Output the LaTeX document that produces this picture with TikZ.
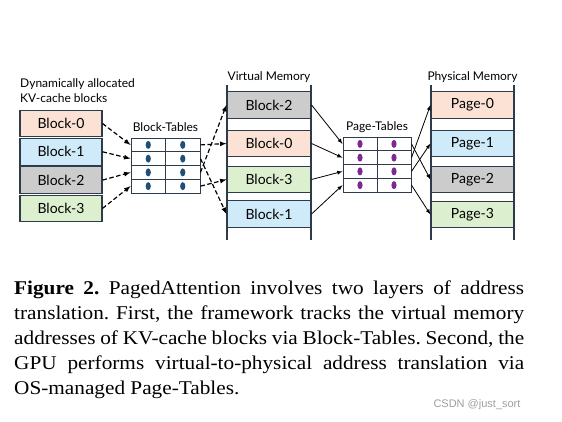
\documentclass[tikz,border=0pt]{standalone}
\usepackage{fontspec}
\setmainfont[FakeStretch=1.09]{Liberation Serif}
\newfontfamily\diagfont{Lato}
\newfontfamily\markfont{Liberation Sans}
\usepackage{xcolor}
\definecolor{ink}{HTML}{2E3B4A}
\definecolor{peach}{HTML}{FBE2D5}
\definecolor{sky}{HTML}{CFEAF8}
\definecolor{stone}{HTML}{CCCCCC}
\definecolor{leaf}{HTML}{DCF0D0}
\definecolor{navy}{HTML}{1F4E79}
\definecolor{plum}{HTML}{7B2B8F}

\begin{document}
\begin{tikzpicture}[x=1pt, y=-1pt, >=latex,
  memcell/.style={draw=ink, line width=1.1pt, minimum width=84pt, minimum height=26.5pt,
    inner sep=0pt, font=\diagfont\fontsize{14}{16}\selectfont},
  tabcell/.style={draw=ink, line width=1pt, fill=white, minimum width=34.5pt,
    minimum height=13.75pt, inner sep=0pt},
  dashlink/.style={->, line width=1.2pt, dash pattern=on 4.5pt off 2.5pt},
  solidlink/.style={->, line width=0.8pt},
  title/.style={font=\diagfont\fontsize{12}{15}\selectfont, inner sep=0pt}]
  \useasboundingbox[fill=white] (0,0) rectangle (562,421);

  % KV-cache blocks
  \node[title, anchor=west, align=left] (kvlabel) at (20,90.5)
    {Dynamically allocated\\KV-cache blocks};
  \foreach \name/\col [count=\i from 0] in {Block-0/peach, Block-1/sky, Block-2/stone, Block-3/leaf}
    \node[memcell, minimum width=82pt, fill=\col] (kv\i) at (61, 123.5+28.3*\i) {\name};

  % Block-Tables
  \node[title] (btlabel) at (165.5,127) {Block-Tables};
  \foreach \r in {0,...,3}
    \foreach \c in {0,1} {
      \node[tabcell] (bt\r\c) at (148.25+34.5*\c, 144.9+13.75*\r) {};
      \fill[navy] (bt\r\c.center) ellipse (2.6pt and 4pt);
    }

  % Virtual Memory
  \node[title] (vmlabel) at (269,77) {Virtual Memory};
  \draw[ink, line width=1.2pt] (227,85) -- (227,240);
  \draw[ink, line width=1.2pt] (311,85) -- (311,240);
  \foreach \name/\col/\y in {2/stone/105, 0/peach/143.5, 3/leaf/179.5, 1/sky/214}
    \node[memcell, fill=\col] (vm\name) at (269,\y) {Block-\name};

  % Page-Tables
  \node[title] (ptlabel) at (377,127) {Page-Tables};
  \foreach \r in {0,...,3}
    \foreach \c in {0,1} {
      \node[tabcell, minimum width=34pt] (pt\r\c) at (360+34*\c, 143.9+13.75*\r) {};
      \fill[plum] (pt\r\c.center) ellipse (2.6pt and 4pt);
    }

  % Physical Memory
  \node[title] (pmlabel) at (472.5,77) {Physical Memory};
  \draw[ink, line width=1.2pt] (431,85) -- (431,240);
  \draw[ink, line width=1.2pt] (514,85) -- (514,240);
  \foreach \name/\col/\y in {0/peach/105, 1/sky/143.5, 2/stone/179.5, 3/leaf/214.5}
    \node[memcell, minimum width=83pt, fill=\col] (pg\name) at (472.5,\y) {Page-\name};

  % Blocks -> Block-Tables -> Virtual Memory (dashed)
  \foreach \i in {0,...,3} {
    \draw[dashlink] (kv\i.east) -- (bt\i0.west);
    \draw[dashlink] (bt\i1.east) -- (vm\i.west);
  }

  % Virtual Memory -> Page-Tables -> Physical Memory
  \foreach \v/\r in {2/0, 0/1, 3/2, 1/3}
    \draw[solidlink] (vm\v.east) -- (pt\r0.west);
  \foreach \r/\p in {0/2, 1/0, 2/1, 3/3}
    \draw[solidlink] (pt\r1.east) -- (pg\p.west);

  % Caption
  \node[anchor=north west, text width=510pt, align=justify, inner sep=0pt,
    font=\frenchspacing\fontsize{19.5}{25}\selectfont] (caption) at (14,281)
    {\textbf{Figure 2.} PagedAttention involves two layers of address\linebreak
     translation. First, the framework tracks the virtual memory\linebreak
     addresses of KV-cache blocks via Block-Tables. Second, the\linebreak
     GPU performs virtual-to-physical address translation via\linebreak
     OS-managed Page-Tables.};
  \node[anchor=east, text=gray!75, font=\markfont\fontsize{11}{13}\selectfont]
    (mark) at (524,405) {CSDN @just\_sort};
\end{tikzpicture}
\end{document}
